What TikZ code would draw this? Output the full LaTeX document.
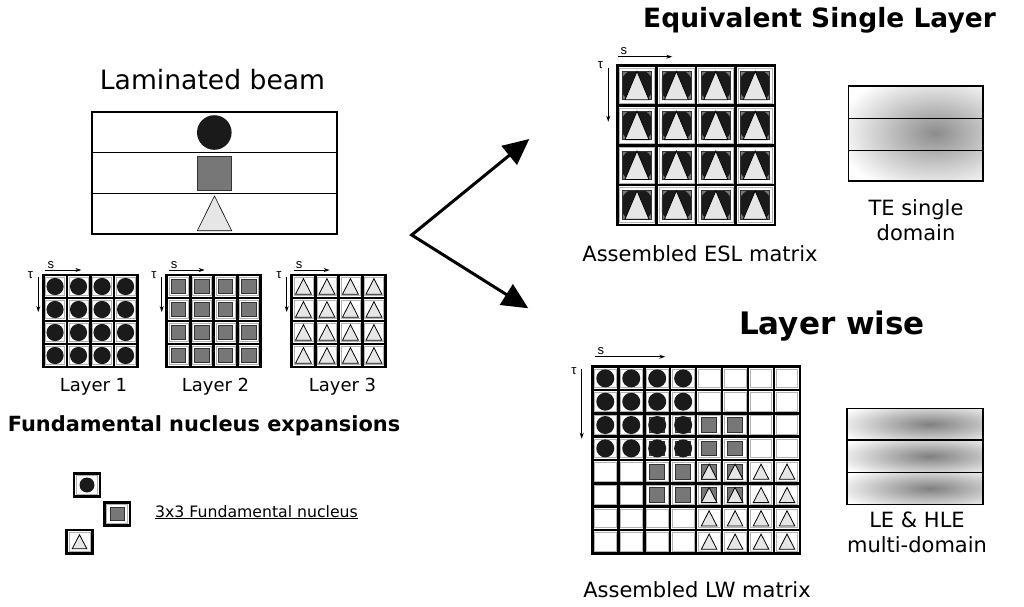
\documentclass[tikz,border=0pt]{standalone}
\usepackage{fontspec}
\setmainfont{DejaVu Sans}
\newfontfamily\arialf{Liberation Sans}
\usetikzlibrary{arrows.meta}
\definecolor{sqgray}{HTML}{777777}
\definecolor{sqedge}{HTML}{333333}
\definecolor{trifill}{HTML}{E6E6E6}
\definecolor{circfill}{HTML}{1A1A1A}
\tikzset{
  gridline/.style={draw=black, line width=2.6pt},
  gridinner/.style={draw=black!30, line width=0.5pt},
  circshape/.style={fill=circfill},
  sqshape/.style={fill=sqgray, draw=sqedge, line width=0.8pt},
  trishape/.style={fill=trifill, draw=black, line width=0.8pt, line join=miter},
  axisarrow/.style={-{Stealth[length=6pt,width=4pt]}, line width=0.8pt},
  bigarrow/.style={line width=3pt, line join=miter},
  axlbl/.style={inner sep=0pt, font=\arialf\fontsize{13}{13}\selectfont},
  lbl/.style={inner sep=0pt, anchor=base, align=center},
  boxline/.style={draw=black, line width=1.6pt},
}
\newcommand{\matgrid}[6]{%
  \foreach \ii in {1,...,#5}{\foreach \jj in {1,...,#6}{%
    \draw[gridline] ({#1+(\ii-1)*#3},{#2+(\jj-1)*#4}) rectangle ++(#3,#4);
    \draw[gridinner] ({#1+(\ii-1)*#3+2.3},{#2+(\jj-1)*#4+2.3}) rectangle ++({#3-4.6},{#4-4.6});
  }}}
\newcommand{\shpC}[3]{\fill[circshape] ({#1},{#2}) circle (#3);}
\newcommand{\shpS}[3]{\draw[sqshape] ({#1-#3},{#2-#3}) rectangle ({#1+#3},{#2+#3});}
\newcommand{\shpT}[4]{\draw[trishape] ({#1-#3},{#2+#4}) -- ({#1},{#2-#4}) -- ({#1+#3},{#2+#4}) -- cycle;}
% #1 prefix, #2 L, #3 T, #4 s arrow offset above, #5 s arrow length, #6 s arrow start dx,
% #7 tau arrow dx (left of L), #8 tau arrow length, #9 tau baseline dy
\newcommand{\axes}[9]{%
  \coordinate (#1s0) at ({#2+#6},{#3-#4});
  \coordinate (#1s1) at ({#2+#6+#5},{#3-#4});
  \draw[axisarrow] (#1s0) -- (#1s1);
  \node[axlbl, anchor=base west] (#1sl) at ({#2+#6+2},{#3-#4-2}) {s};
  \coordinate (#1t0) at ({#2-#7},{#3+2});
  \coordinate (#1t1) at ({#2-#7},{#3+2+#8});
  \draw[axisarrow] (#1t0) -- (#1t1);
  \node[axlbl, anchor=base east] (#1tl) at ({#2-#7-5},{#3+#9}) {τ};
}
\begin{document}
\begin{tikzpicture}[x=1pt,y=-1pt]
\useasboundingbox (0,0) rectangle (1024,606);

% ---------- Laminated beam ----------
\node[lbl, font=\fontsize{26.6}{30}\selectfont] (beamtitle) at (212.5,89) {Laminated beam};
\draw[boxline] (91.7,111.7) rectangle (336.7,234);
\draw[boxline] (91.7,152.3) -- (336.7,152.3);
\draw[boxline] (91.7,193.3) -- (336.7,193.3);
\fill[circshape] (214.3,132.5) circle (17.3);
\draw[sqshape] (197.3,156.7) rectangle (231.7,190);
\draw[trishape, line width=0.6pt] (197.3,230.7) -- (214.5,196) -- (231.7,230.7) -- cycle;

% ---------- Layer matrices ----------
\matgrid{43.3}{275}{23.5}{23}{4}{4}
\matgrid{166.7}{275}{23.5}{23}{4}{4}
\matgrid{291.7}{275}{23.5}{23}{4}{4}
\foreach \ii in {1,...,4}{\foreach \jj in {1,...,4}{%
  \pgfmathsetmacro\cy{275+(\jj-0.5)*23}
  \pgfmathsetmacro\cxa{43.3+(\ii-0.5)*23.5}
  \pgfmathsetmacro\cxb{166.7+(\ii-0.5)*23.5}
  \pgfmathsetmacro\cxc{291.7+(\ii-0.5)*23.5}
  \shpC{\cxa}{\cy}{8.6}
  \shpS{\cxb}{\cy}{7.3}
  \shpT{\cxc}{\cy}{8}{7.8}
}}
\axes{la}{43.3}{275}{5}{36}{2}{5}{35}{3}
\axes{lb}{166.7}{275}{5}{36}{2}{5}{35}{3}
\axes{lc}{291.7}{275}{5}{36}{2}{5}{35}{3}
\node[lbl, font=\fontsize{18}{20}\selectfont] (lay1) at (93.5,391) {Layer 1};
\node[lbl, font=\fontsize{18}{20}\selectfont] (lay2) at (215.5,391) {Layer 2};
\node[lbl, font=\fontsize{18}{20}\selectfont] (lay3) at (342.5,391) {Layer 3};
\node[lbl, font=\bfseries\fontsize{20.9}{24}\selectfont] (fnexp) at (204,431) {Fundamental nucleus expansions};

% ---------- Fundamental nucleus icons ----------
\matgrid{74}{473.3}{26}{23.4}{1}{1}
\shpC{87}{485}{7.5}
\matgrid{104.3}{502.3}{25.7}{23.4}{1}{1}
\shpS{117.2}{514}{6.7}
\matgrid{66.7}{530}{25.6}{23.3}{1}{1}
\shpT{79.5}{541.7}{7.3}{7}
\node[inner sep=0pt, anchor=base west, font=\fontsize{15.7}{18}\selectfont] (fnlabel) at (155,517) {\underline{3x3 Fundamental nucleus}};

% ---------- Big arrows ----------
\coordinate (vtx) at (411.7,235);
\coordinate (tipA) at (529.3,139);
\coordinate (tipB) at (528.3,308.3);
\draw[bigarrow, {Triangle[length=26pt,width=24pt]}-{Triangle[length=26pt,width=24pt]}] (tipA) -- (vtx) -- (tipB);

% ---------- ESL ----------
\node[lbl, font=\bfseries\fontsize{26.5}{30}\selectfont] (esltitle) at (819.5,27) {Equivalent Single Layer};
\matgrid{617.3}{65.7}{39.4}{39.8}{4}{4}
\foreach \ii in {1,...,4}{\foreach \jj in {1,...,4}{%
  \pgfmathsetmacro\cx{617.3+(\ii-0.5)*39.4}
  \pgfmathsetmacro\cy{65.7+(\jj-0.5)*39.8}
  \begin{scope}
    \clip ({\cx-14.5},{\cy-14.2}) rectangle ({\cx+14.5},{\cy+14.2});
    \fill[sqgray] ({\cx-14.5},{\cy-14.2}) rectangle ({\cx+14.5},{\cy+14.2});
    \fill[circfill] (\cx,\cy) circle (16.5);
  \end{scope}
  \draw[draw=sqedge, line width=0.7pt] ({\cx-14.5},{\cy-14.2}) rectangle ({\cx+14.5},{\cy+14.2});
  \draw[trishape] ({\cx-12},{\cy+14.2}) -- (\cx,{\cy-14.2}) -- ({\cx+12},{\cy+14.2}) -- cycle;
}}
\axes{esl}{617.3}{65.7}{9}{54}{1}{9}{54}{3}
\node[lbl, font=\fontsize{21}{24}\selectfont] (esllabel) at (700,261) {Assembled ESL matrix};

% TE single domain
\begin{scope}
  \clip (848.3,85.7) rectangle (983,181);
  \shade[inner color=black!45, outer color=white] (935,133) ellipse (100 and 62);
\end{scope}
\draw[boxline] (848.3,85.7) rectangle (983,181);
\draw[boxline] (848.3,118.3) -- (983,118.3);
\draw[boxline] (848.3,150.3) -- (983,150.3);
\node[lbl, font=\fontsize{21}{24}\selectfont] (telabel) at (916,215) {TE single};
\node[lbl, font=\fontsize{21}{24}\selectfont] (telabel2) at (916,240) {domain};

% ---------- Layer wise ----------
\node[lbl, font=\bfseries\fontsize{31}{34}\selectfont] (lwtitle) at (832,334) {Layer wise};
\matgrid{592.3}{366.7}{25.96}{23.33}{8}{8}
\foreach \ii in {3,...,6}{\foreach \jj in {3,...,6}{%
  \pgfmathsetmacro\cx{592.3+(\ii-0.5)*25.96}
  \pgfmathsetmacro\cy{366.7+(\jj-0.5)*23.33}
  \shpS{\cx}{\cy}{7.4}
}}
\foreach \ii in {1,...,4}{\foreach \jj in {1,...,4}{%
  \pgfmathsetmacro\cx{592.3+(\ii-0.5)*25.96}
  \pgfmathsetmacro\cy{366.7+(\jj-0.5)*23.33}
  \shpC{\cx}{\cy}{9}
}}
\foreach \ii in {5,...,8}{\foreach \jj in {5,...,8}{%
  \pgfmathsetmacro\cx{592.3+(\ii-0.5)*25.96}
  \pgfmathsetmacro\cy{366.7+(\jj-0.5)*23.33}
  \shpT{\cx}{\cy}{7.8}{7.6}
}}
\axes{lw}{592.3}{366.7}{10}{70}{3}{10.6}{70}{8}
\node[lbl, font=\fontsize{21}{24}\selectfont] (lwlabel) at (697,597) {Assembled LW matrix};

% LE & HLE multi-domain
\foreach \yt/\yb in {408.3/440, 440/472.3, 472.3/504.3}{%
  \begin{scope}
    \clip (846.7,\yt) rectangle (983,\yb);
    \pgfmathsetmacro\yc{(\yt+\yb)/2}
    \shade[inner color=black!50, outer color=white] (930,\yc) ellipse (100 and 24);
  \end{scope}
}
\draw[boxline] (846.7,408.3) rectangle (983,504.3);
\draw[boxline] (846.7,440) -- (983,440);
\draw[boxline] (846.7,472.3) -- (983,472.3);
\node[lbl, font=\fontsize{21}{24}\selectfont] (lelabel) at (917,527) {LE \& HLE};
\node[lbl, font=\fontsize{21}{24}\selectfont] (lelabel2) at (917,552) {multi-domain};
\end{tikzpicture}
\end{document}
